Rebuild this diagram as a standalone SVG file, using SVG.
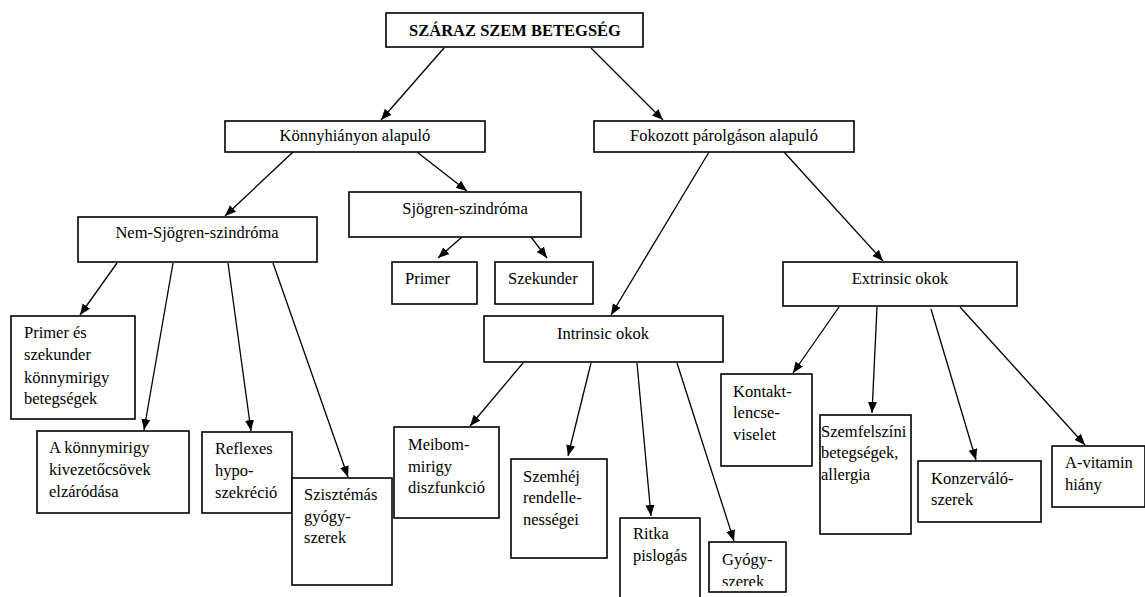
<svg xmlns="http://www.w3.org/2000/svg" width="1145" height="597" viewBox="0 0 1145 597" font-family="'Liberation Serif', Tinos, 'Times New Roman', 'DejaVu Serif', serif">
<style>
rect{fill:#fff;stroke:#000;stroke-width:1.6}
text{font-family:'Liberation Serif', Tinos, 'Times New Roman', 'DejaVu Serif', serif;font-size:16.5px;fill:#000}
.c{text-anchor:middle}
.b{font-weight:bold}
#edges line{stroke:#000;stroke-width:1.3;marker-end:url(#ah)}
</style>
<defs>
<marker id="ah" markerUnits="userSpaceOnUse" markerWidth="12" markerHeight="10" refX="11" refY="4.5" orient="auto">
<path d="M0,0 L11,4.5 L0,9 z" fill="#000"/>
</marker>
<clipPath id="gyclip"><rect x="709" y="542" width="77" height="44"/></clipPath>
</defs>
<rect x="0" y="0" width="1145" height="597" style="fill:#fff;stroke:none"/>
<g id="edges">
<line x1="444" y1="48" x2="381" y2="120"/>
<line x1="591" y1="48" x2="663" y2="120"/>
<line x1="293" y1="152" x2="225" y2="216"/>
<line x1="417" y1="152" x2="467" y2="191"/>
<line x1="709" y1="152" x2="611" y2="315"/>
<line x1="784" y1="152" x2="883" y2="261"/>
<line x1="462" y1="237" x2="438" y2="258"/>
<line x1="531" y1="237" x2="547" y2="258"/>
<line x1="117" y1="263" x2="80" y2="315"/>
<line x1="173" y1="263" x2="144" y2="430"/>
<line x1="228" y1="263" x2="251" y2="431"/>
<line x1="273" y1="263" x2="348" y2="477"/>
<line x1="523" y1="363" x2="470" y2="426"/>
<line x1="591" y1="363" x2="568" y2="456"/>
<line x1="637" y1="363" x2="651" y2="516"/>
<line x1="677" y1="363" x2="734" y2="541"/>
<line x1="839" y1="307" x2="793" y2="373"/>
<line x1="877" y1="307" x2="872" y2="413"/>
<line x1="931" y1="309" x2="976" y2="460"/>
<line x1="960" y1="307" x2="1085" y2="445"/>
</g>
<g id="root"><rect x="386" y="13" width="257" height="34"/><text class="c b" x="515" y="35.5">SZÁRAZ SZEM BETEGSÉG</text></g>
<g id="konnyhiany"><rect x="225" y="121" width="260" height="31"/><text class="c" x="355" y="141">Könnyhiányon alapuló</text></g>
<g id="fokozott"><rect x="594" y="121" width="260" height="31"/><text class="c" x="724" y="141">Fokozott párolgáson alapuló</text></g>
<g id="sjogren"><rect x="349" y="192" width="232" height="45"/><text class="c" x="465" y="214">Sjögren-szindróma</text></g>
<g id="nemsjogren"><rect x="78" y="217" width="239" height="45"/><text class="c" x="197" y="238">Nem-Sjögren-szindróma</text></g>
<g id="primer"><rect x="392" y="262" width="85" height="42"/><text x="405" y="284">Primer</text></g>
<g id="szekunder"><rect x="495" y="262" width="98" height="42"/><text x="508" y="284">Szekunder</text></g>
<g id="extrinsic"><rect x="783" y="262" width="234" height="44"/><text class="c" x="900" y="284">Extrinsic okok</text></g>
<g id="intrinsic"><rect x="484" y="316" width="239" height="46"/><text class="c" x="603" y="339">Intrinsic okok</text></g>
<g id="primeres"><rect x="11" y="316" width="124" height="103"/><text x="24" y="338">Primer és</text><text x="24" y="360">szekunder</text><text x="24" y="383">könnymirigy</text><text x="24" y="404">betegségek</text></g>
<g id="kivezeto"><rect x="37" y="431" width="152" height="82"/><text x="49" y="453">A könnymirigy</text><text x="49" y="475">kivezetőcsövek</text><text x="49" y="497">elzáródása</text></g>
<g id="reflexes"><rect x="202" y="432" width="90" height="81"/><text x="215" y="454">Reflexes</text><text x="215" y="476">hypo-</text><text x="215" y="498">szekréció</text></g>
<g id="szisztemas"><rect x="292" y="478" width="100" height="107"/><text x="304" y="500">Szisztémás</text><text x="304" y="522">gyógy-</text><text x="304" y="543">szerek</text></g>
<g id="meibom"><rect x="394" y="427" width="105" height="91"/><text x="408" y="450">Meibom-</text><text x="408" y="472">mirigy</text><text x="408" y="493">diszfunkció</text></g>
<g id="szemhej"><rect x="511" y="459" width="96" height="99"/><text x="523" y="482">Szemhéj</text><text x="523" y="503">rendelle-</text><text x="523" y="525">nességei</text></g>
<g id="ritka"><rect x="620" y="518" width="80" height="82"/><text x="633" y="539">Ritka</text><text x="633" y="561">pislogás</text></g>
<g id="gyogyszerek"><rect x="709" y="542" width="77" height="50"/><g clip-path="url(#gyclip)"><text x="722" y="565">Gyógy-</text><text x="722" y="587">szerek</text></g></g>
<g id="kontakt"><rect x="721" y="374" width="91" height="92"/><text x="733" y="397">Kontakt-</text><text x="733" y="418">lencse-</text><text x="733" y="440">viselet</text></g>
<g id="szemfelszini"><rect x="820" y="415" width="91" height="119"/><text x="821" y="437">Szemfelszíni</text><text x="821" y="458">betegségek,</text><text x="821" y="480">allergia</text></g>
<g id="konzervalo"><rect x="918" y="461" width="123" height="61"/><text x="931" y="484">Konzerváló-</text><text x="931" y="505">szerek</text></g>
<g id="avitamin"><rect x="1052" y="446" width="93" height="61"/><text x="1065" y="468">A-vitamin</text><text x="1065" y="490">hiány</text></g>
</svg>
